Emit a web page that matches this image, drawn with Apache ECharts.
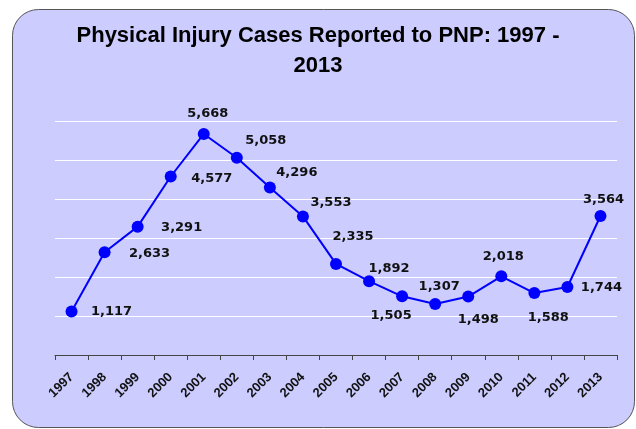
<!DOCTYPE html>
<html>
<head>
<meta charset="utf-8">
<script src="https://cdn.jsdelivr.net/npm/echarts@6/dist/echarts.min.js"></script>
<style>
html,body{margin:0;padding:0;background:#ffffff;}
#chart{width:636px;height:429px;}
</style>
</head>
<body>
<div id="chart"></div>
<script>
var years = ['1997','1998','1999','2000','2001','2002','2003','2004','2005','2006','2007','2008','2009','2010','2011','2012','2013'];
var cases = [1117,2633,3291,4577,5668,5058,4296,3553,2335,1892,1505,1307,1498,2018,1588,1744,3564];
var yTicks = [0,1000,2000,3000,4000,5000,6000];
// label placement (style only): offset of label centre from marker centre
var labelOffsets = [[40,0],[45,1],[44,1],[41,2],[4,-20],[29,-17],[27,-15],[28,-14],[17,-27],[20,-13],[-11,19],[4,-17],[10,23],[2,-20],[14,25],[34,1],[3,-16]];

var chart = echarts.init(document.getElementById('chart'), null, {renderer:'canvas'});
var dataItems = cases.map(function(v,i){
  return {value:v, label:{offset:labelOffsets[i]}};
});
chart.setOption({
  animation:false,
  backgroundColor:'transparent',
  graphic:[{
    type:'rect', z:-10, silent:true,
    shape:{x:12.5,y:9.5,width:622,height:418,r:26},
    style:{fill:'#ccccff',stroke:'#555555',lineWidth:1}
  }],
  title:{
    text:'Physical Injury Cases Reported to PNP: 1997 -\n2013',
    left:'center', top:16,
    textStyle:{fontFamily:'Liberation Sans',fontWeight:'bold',fontSize:22,lineHeight:30,color:'#000000'}
  },
  grid:{left:55,right:19,top:121,bottom:74,containLabel:false},
  xAxis:{
    type:'category', data:years, boundaryGap:true,
    axisLine:{lineStyle:{color:'#444444',width:1}},
    axisTick:{show:true,length:5,lineStyle:{color:'#444444'}},
    axisLabel:{rotate:45,margin:20,color:'#111111',fontFamily:'Liberation Sans',fontWeight:'bold',fontSize:13},
    splitLine:{show:false}
  },
  yAxis:{
    type:'value', min:yTicks[0], max:yTicks[yTicks.length-1], interval:1000,
    axisLine:{show:false}, axisTick:{show:false}, axisLabel:{show:false},
    splitLine:{show:true,lineStyle:{color:'#ffffff',width:1}}
  },
  series:[{
    type:'line', data:dataItems,
    symbol:'circle', symbolSize:12,
    lineStyle:{color:'#0000ff',width:2},
    itemStyle:{color:'#0000ff'},
    label:{show:true,position:'inside',color:'#111111',fontFamily:'DejaVu Sans',fontWeight:'bold',fontSize:13,
      formatter:function(p){return p.value.toLocaleString('en-US');}}
  }]
});
</script>
</body>
</html>
